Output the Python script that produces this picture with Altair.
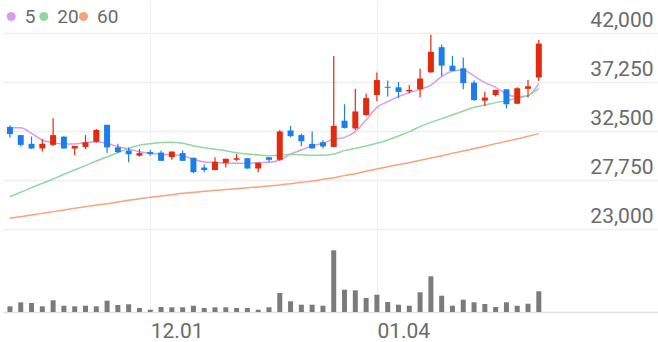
import altair as alt
import pandas as pd

# ---- data ----
dates = [
    "2020-11-12", "2020-11-13", "2020-11-16", "2020-11-17", "2020-11-18", "2020-11-19", "2020-11-20",
    "2020-11-23", "2020-11-24", "2020-11-25", "2020-11-26", "2020-11-27", "2020-11-30",
    "2020-12-01", "2020-12-02", "2020-12-03", "2020-12-04", "2020-12-07", "2020-12-08", "2020-12-09",
    "2020-12-10", "2020-12-11", "2020-12-14", "2020-12-15", "2020-12-16", "2020-12-17", "2020-12-18",
    "2020-12-21", "2020-12-22", "2020-12-23", "2020-12-24", "2020-12-28", "2020-12-29", "2020-12-30",
    "2021-01-04", "2021-01-05", "2021-01-06", "2021-01-07", "2021-01-08", "2021-01-11", "2021-01-12",
    "2021-01-13", "2021-01-14", "2021-01-15", "2021-01-18", "2021-01-19", "2021-01-20", "2021-01-21",
    "2021-01-22", "2021-01-25",
]
opens = [32900, 32100, 31250, 30800, 31150, 31950, 30800, 30950, 31450, 33100,
         30900, 30600, 30100, 30450, 30400, 29950, 30350, 29900, 28950, 28700,
         29400, 29700, 29850, 28850, 29950, 29700, 32550, 32100, 31250, 31400,
         30950, 33500, 32750, 34050, 36000, 36800, 36750, 36350, 36550, 38200,
         40650, 38850, 38600, 37200, 35450, 36000, 36550, 35150, 36600, 37700]
highs = [33050, 32100, 31950, 31700, 33750, 32000, 31050, 32100, 32700, 33100,
         31250, 30900, 30750, 30650, 30600, 30500, 30600, 29900, 29250, 29950,
         29800, 30250, 29850, 29400, 29950, 32600, 33000, 32250, 32450, 31600,
         39800, 35100, 36600, 36150, 38200, 37400, 37250, 36950, 38550, 41850,
         40900, 39800, 39650, 37400, 36300, 36500, 36550, 36750, 37450, 41350]
lows = [31850, 31000, 30750, 30500, 31050, 30800, 30150, 30750, 31350, 30350,
        30350, 29450, 30000, 30100, 29600, 29700, 29600, 28400, 28500, 28700,
        28950, 29600, 28850, 28500, 29500, 29600, 31900, 31050, 30800, 30800,
        30950, 32750, 32600, 33950, 35400, 35850, 35700, 36150, 35750, 38200,
        37850, 38300, 36550, 35450, 34950, 35850, 34700, 35150, 35750, 37350]
closes = [32200, 31150, 30800, 31250, 32100, 30800, 31050, 31400, 32600, 30900,
          30450, 30250, 30350, 30250, 29600, 30500, 29600, 28500, 28700, 29500,
          29800, 29850, 28850, 29400, 29700, 32450, 32000, 31500, 30800, 31000,
          33000, 32800, 34400, 35700, 37450, 36700, 36300, 36500, 37600, 40200,
          38850, 38350, 37150, 35500, 35750, 36500, 35100, 36650, 36850, 41000]
volumes = [114000, 194000, 180000, 114000, 234000, 126000, 114000, 126000, 114000, 226000,
           140000, 154000, 80000, 46000, 100000, 94000, 94000, 126000, 80000, 94000,
           94000, 80000, 80000, 46000, 94000, 380000, 214000, 146000, 146000, 126000,
           1234000, 446000, 434000, 280000, 346000, 200000, 146000, 126000, 394000, 714000,
           326000, 126000, 246000, 194000, 160000, 100000, 194000, 126000, 166000, 414000]
ma5 = [32820, 32820, 32270, 31630, 31370, 31240, 31240, 31370, 31460, 31300,
       30980, 30750, 30490, 30330, 30230, 30170, 30100, 29750, 29490, 29450,
       29360, 29360, 29360, 29420, 29450, 29680, 30260, 30650, 31070, 31300,
       31690, 31880, 32440, 33570, 34800, 35350, 35840, 36230, 36550, 36970,
       37780, 38330, 38430, 37850, 37200, 36750, 36070, 35840, 35940, 37140]
ma20 = [26110, 26540, 26990, 27410, 27830, 28290, 28710, 29130, 29580, 30000,
        30390, 30810, 31110, 31270, 31370, 31400, 31300, 31070, 30880, 30720,
        30590, 30390, 30260, 30170, 30100, 30130, 30230, 30200, 30130, 30130,
        30260, 30590, 30810, 31040, 31300, 31630, 32010, 32440, 32920, 33340,
        33700, 34060, 34440, 34800, 35030, 35260, 35450, 35680, 35940, 36620]
ma60 = [24010, 24170, 24330, 24490, 24660, 24820, 24980, 25140, 25300, 25430,
        25600, 25760, 25920, 26050, 26180, 26310, 26440, 26540, 26630, 26730,
        26800, 26890, 26990, 27060, 27150, 27250, 27380, 27510, 27640, 27800,
        27960, 28160, 28350, 28580, 28810, 29030, 29230, 29420, 29650, 29870,
        30100, 30330, 30560, 30780, 31010, 31270, 31500, 31720, 31980, 32270]
ma_names = ["5", "20", "60"]
price_ticks = [23000, 27750, 32500, 37250, 42000]

RED, BLUE = "#e3290e", "#1b7eec"
MA_COLORS = ["#d79cec", "#8fd9a1", "#f8a37a"]
LEGEND_X = [-1.3, 31.3, 71]          # left edge of each legend entry (px from plot origin)
TEXT = "#6a6a6a"
FONT = "Roboto"

n = len(dates)
candles = pd.DataFrame({
    "i": list(range(n)), "date": dates, "open": opens, "high": highs,
    "low": lows, "close": closes, "volume": volumes,
})
candles["dir"] = ["up" if c >= o else "down" for o, c in zip(opens, closes)]

ma_df = pd.concat([
    pd.DataFrame({"i": list(range(n)), "ma": name, "value": vals})
    for name, vals in zip(ma_names, [ma5, ma20, ma60])
], ignore_index=True)

# ---- scales / axes ----
month_starts = [i for i in range(1, n) if dates[i][5:7] != dates[i - 1][5:7]]
label_expr = " : ".join(
    f"datum.value == {i} ? '{dates[i][5:7]}.{dates[i][8:10]}'" for i in month_starts
) + " : ''"

x_scale = alt.Scale(domain=[-0.18, 59.58], nice=False, zero=False)
x_axis = alt.Axis(
    values=month_starts, labelExpr=label_expr, title=None,
    grid=True, gridColor="#eeeeee", gridWidth=1,
    ticks=False, tickSize=0, domain=True, domainColor="#e2e2e2", domainWidth=1.5,
    labelAlign="left", labelBaseline="alphabetic", labelPadding=25.5,
    labelFontSize=21, labelColor=TEXT, labelFont=FONT, labelFlush=False, labelOverlap=False,
)
X = alt.X("i:Q", scale=x_scale, axis=x_axis)

y_scale = alt.Scale(domain=[14899, 45238], nice=False, zero=False)
y_axis = alt.Axis(
    orient="right", values=price_ticks, format=",d", title=None,
    grid=True, gridColor="#eeeeee", gridWidth=1.5,
    ticks=False, tickSize=0, domain=False,
    labelAlign="right", labelBaseline="alphabetic", labelOffset=-6.5, labelPadding=-5,
    labelFontSize=21, labelColor=TEXT, labelFont=FONT, labelFlush=False,
)
Y = alt.Y("value:Q", scale=y_scale, axis=y_axis)

dir_color = alt.Color("dir:N", scale=alt.Scale(domain=["up", "down"], range=[RED, BLUE]), legend=None)
ma_scale = alt.Scale(domain=ma_names, range=MA_COLORS)

base = alt.Chart(candles)

volume = base.mark_bar(size=5, color="#7b7b7b").encode(
    x=X,
    y=alt.Y("volume:Q", scale=alt.Scale(domain=[0, 6240000], nice=False, zero=True), axis=None),
)

# one single-entry legend per moving average, so each entry sits where the reference puts it
legend_layers = []
for name, col, lx in zip(ma_names, MA_COLORS, LEGEND_X):
    legend_layers.append(
        alt.Chart(ma_df).transform_filter("false").mark_circle().encode(
            x=X, y=Y,
            color=alt.Color("ma:N", scale=alt.Scale(domain=[name], range=[col]), legend=alt.Legend(
                orient="none", legendX=lx, legendY=7, direction="horizontal", title=None,
                symbolType="circle", symbolSize=80, symbolStrokeWidth=0, symbolOpacity=1,
                labelFontSize=19, labelColor=TEXT, labelFont=FONT, labelOffset=4,
                padding=0, labelLimit=100,
            )),
        )
    )

ma_lines = alt.Chart(ma_df).mark_line(strokeWidth=1.5, interpolate="monotone").encode(
    x=X, y=Y,
    color=alt.Color("ma:N", scale=ma_scale, legend=None),
    detail="ma:N",
)

wicks = base.mark_rule(strokeWidth=1.2).encode(
    x=X,
    y=alt.Y("low:Q", scale=y_scale, axis=y_axis),
    y2="high:Q",
    color=dir_color,
)

bodies = base.mark_bar(size=6).encode(
    x=X,
    y=alt.Y("open:Q", scale=y_scale, axis=y_axis),
    y2="close:Q",
    color=dir_color,
)

price = alt.layer(*legend_layers, ma_lines, wicks, bodies).resolve_scale(color="independent")

chart = alt.layer(volume, price).resolve_scale(y="independent").properties(
    width=655, height=312,
    padding={"left": 3, "top": 0, "right": 0, "bottom": 30},
    autosize=alt.AutoSizeParams(type="none"),
    background="white",
).configure_view(stroke=None)

chart.save("out.html", embed_options={"renderer": "svg", "actions": False})
